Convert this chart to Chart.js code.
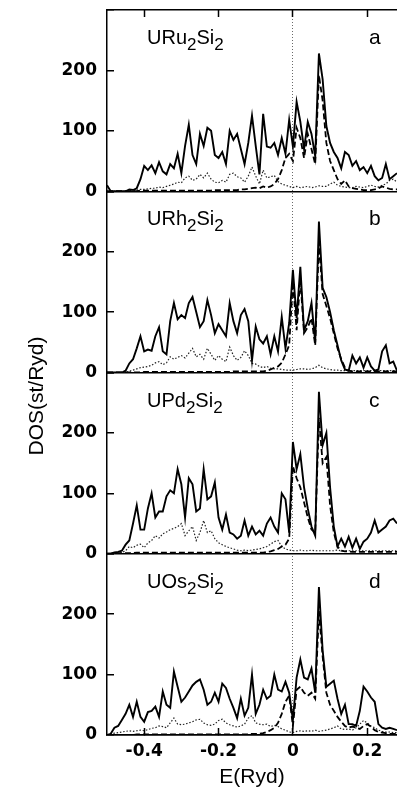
<!DOCTYPE html>
<html><head><meta charset="utf-8">
<script src="https://cdn.jsdelivr.net/npm/chart.js@4/dist/chart.umd.min.js"></script>
<style>html,body{margin:0;padding:0;background:#fff;}canvas{display:block;}</style>
</head><body>
<canvas id="c" width="397" height="790" style="width:397px;height:790px"></canvas>
<script>
// ---------- data ----------
const energy = [-0.50,-0.49,-0.48,-0.47,-0.46,-0.45,-0.44,-0.43,-0.42,-0.41,
  -0.40,-0.39,-0.38,-0.37,-0.36,-0.35,-0.34,-0.33,-0.32,-0.31,
  -0.30,-0.29,-0.28,-0.27,-0.26,-0.25,-0.24,-0.23,-0.22,-0.21,
  -0.20,-0.19,-0.18,-0.17,-0.16,-0.15,-0.14,-0.13,-0.12,-0.11,
  -0.10,-0.09,-0.08,-0.07,-0.06,-0.05,-0.04,-0.03,-0.02,-0.01,
  0.00,0.01,0.02,0.03,0.04,0.05,0.06,0.07,0.08,0.09,
  0.10,0.11,0.12,0.13,0.14,0.15,0.16,0.17,0.18,0.19,
  0.20,0.21,0.22,0.23,0.24,0.25,0.26,0.27,0.28];

const panelNames = ['URu2Si2','URh2Si2','UPd2Si2','UOs2Si2'];
const panelLetters = ['a','b','c','d'];
const xTickValues = [-0.4,-0.2,0,0.2];
const yTickValues = [0,100,200,300];
const yTickLabels = ['0','100','200',''];
const xTitle = 'E(Ryd)';
const yTitle = 'DOS(st/Ryd)';

// URu2Si2
const aTotal = [10,0,0,0,0,0,3,2,5,20, 42,35,43,30,48,33,28,45,38,62, 30,75,110,60,45,95,75,105,100,60,
  55,65,45,100,85,95,70,45,80,125, 75,28,128,74,72,80,60,88,62,118, 74,148,115,70,115,95,58,228,185,108,
  80,65,55,38,65,60,42,50,35,40, 30,42,25,18,22,45,20,25,30];
const aDashed = [0,0,0,0,0,0,0,0,0,1, 1,1,1,1,1,1,1,1,1,1, 1,1,1,1,1,1,1,1,1,2,
  2,2,2,2,2,2,3,3,4,5, 6,5,8,6,8,12,20,35,55,62, 50,105,88,55,95,70,45,192,150,80,
  50,35,20,12,18,8,5,4,3,2, 2,2,3,5,8,6,4,3,3];
const aDotted = [0,0,0,0,0,0,1,1,2,3, 3,4,5,5,7,6,8,10,12,15, 14,22,25,18,20,28,22,30,20,15,
  14,18,15,28,30,24,22,15,25,40, 25,12,35,22,24,26,16,12,10,8, 6,8,6,7,8,6,7,9,8,8,
  12,15,10,8,7,6,6,8,7,6, 8,10,8,7,10,12,18,20,15];

// URh2Si2
const bTotal = [0,0,0,0,0,3,15,22,40,60, 35,38,36,60,75,35,30,85,115,88, 95,90,115,125,100,75,85,120,95,65,
  80,70,60,115,85,65,95,105,85,20, 76,55,48,60,30,60,35,92,40,82, 170,90,175,70,85,115,50,250,140,125,
  100,70,45,20,5,3,28,15,25,8, 25,10,3,5,35,45,15,18,3];
const bDashed = [0,0,0,0,0,0,0,0,0,0, 1,1,1,1,1,1,1,1,1,1, 1,1,1,1,1,1,1,1,1,1,
  1,1,1,1,2,2,2,2,2,2, 2,2,2,3,5,8,10,16,30,45, 150,70,155,65,75,90,45,215,130,110,
  90,65,40,22,8,3,2,2,2,2, 2,2,2,2,2,2,2,2,2];
const bDotted = [0,0,0,0,0,0,2,4,6,8, 9,10,12,16,18,13,16,26,22,25, 28,24,32,40,26,30,22,40,30,20,
  28,22,18,42,28,20,25,36,28,15, 14,10,8,10,7,6,6,5,4,4, 4,5,6,6,5,6,8,12,8,6,
  5,4,4,3,3,3,3,3,3,3, 3,3,3,3,3,3,3,3,3];

// UPd2Si2
const cTotal = [0,0,2,3,5,15,22,50,80,40, 40,75,100,60,70,70,95,105,100,140, 115,60,125,115,70,75,140,90,95,118,
  60,40,65,35,32,25,30,55,30,45, 32,38,30,50,60,45,35,100,90,35, 185,140,165,110,75,45,30,268,180,200,
  110,45,12,25,12,28,10,25,8,20, 25,35,55,35,40,45,55,58,50];
const cDashed = [0,0,1,1,1,1,1,1,2,2, 2,2,2,2,2,2,2,2,2,2, 2,2,2,2,2,2,2,2,2,2,
  2,2,2,2,2,2,2,2,2,2, 2,2,2,3,4,6,8,12,15,25, 145,125,110,85,60,40,35,225,150,160,
  80,35,12,5,4,4,3,3,3,3, 3,3,3,3,3,3,3,3,3];
const cDotted = [0,0,0,0,2,5,12,10,14,16, 10,18,22,30,26,33,36,40,42,45, 50,30,38,45,22,35,55,35,38,25,
  18,15,12,10,8,6,5,6,5,6, 7,8,10,12,16,20,22,12,8,6, 5,5,6,5,5,6,5,5,5,5,
  5,5,6,5,5,5,5,5,5,5, 5,5,5,5,5,5,5,5,5];

// UOs2Si2
const dTotal = [0,2,12,15,25,35,50,30,55,30, 22,38,40,47,30,72,50,45,105,80, 55,62,72,82,88,92,75,50,55,70,
  55,85,78,60,45,28,60,32,45,100, 35,50,75,60,65,100,75,72,88,70, 25,95,125,95,92,110,70,245,140,80,
  85,90,60,35,50,18,18,15,40,80, 72,62,55,18,12,10,12,10,8];
const dDashed = [0,0,0,0,0,0,0,0,1,1, 1,1,1,1,1,1,1,1,1,1, 1,1,1,1,1,1,1,1,1,1,
  1,1,1,1,1,1,1,1,1,2, 2,2,3,5,8,12,20,35,55,65, 15,75,80,70,65,70,60,205,130,70,
  50,40,30,22,15,12,14,12,10,15, 18,14,8,5,4,3,2,2,2];
const dDotted = [0,2,3,4,5,6,7,6,7,8, 7,9,11,12,15,14,12,20,28,18, 17,18,20,22,25,26,20,17,16,18,
  24,26,20,17,15,13,15,18,28,32, 20,18,17,18,14,16,14,10,8,5, 4,6,7,6,7,6,8,6,7,8,
  10,12,15,10,9,10,8,12,18,24, 20,15,12,8,6,5,5,4,4];

const panels = [
  {id:'ya', total:aTotal, dashed:aDashed, dotted:aDotted},
  {id:'yb', total:bTotal, dashed:bDashed, dotted:bDotted},
  {id:'yc', total:cTotal, dashed:cDashed, dotted:cDotted},
  {id:'yd', total:dTotal, dashed:dDashed, dotted:dDotted}
];

// ---------- chart ----------
const pts = arr => energy.map((e,i) => ({x:e, y:arr[i]}));
const datasets = [];
panels.forEach(p => {
  datasets.push({data:pts(p.total), yAxisID:p.id, xAxisID:'x', borderColor:'#000', borderWidth:1.9, pointRadius:0, tension:0, order:0});
  datasets.push({data:pts(p.dashed), yAxisID:p.id, xAxisID:'x', borderColor:'#000', borderWidth:1.8, borderDash:[6,3], pointRadius:0, tension:0, order:1});
  datasets.push({data:pts(p.dotted), yAxisID:p.id, xAxisID:'x', borderColor:'#222', borderWidth:1.2, borderDash:[1.5,1.8], pointRadius:0, tension:0, order:2});
});

const tickFont = {family:'DejaVu Sans', weight:'bold', size:17};
function yScale(weight){
  return {
    type:'linear', position:'left', stack:'dos', stackWeight:1, weight:weight,
    min:0, max:300,
    afterBuildTicks: s => { s.ticks = yTickValues.map(v => ({value:v})); },
    afterFit: s => { s.width = 50; s.paddingTop = 0; s.paddingBottom = 0; },
    grid: {
      color: c => (c.tick && c.tick.value === 0) ? '#000' : 'rgba(0,0,0,0)',
      lineWidth:1.5, tickLength:-7, tickColor:'#000', tickWidth:1.5
    },
    border: {display:true, color:'#000', width:1.5},
    ticks: {
      padding:17, color:'#000', font:tickFont,
      callback: v => { const i = yTickValues.indexOf(v); return i >= 0 ? yTickLabels[i] : ''; }
    }
  };
}
const fmtX = v => (v === 0 ? '0' : String(v));

const panelPlugin = {
  id:'panelText',
  afterDraw(chart){
    const ctx = chart.ctx;
    ctx.save();
    ctx.fillStyle = '#000';
    ctx.textBaseline = 'alphabetic';
    ctx.textAlign = 'left';
    panels.forEach((p, i) => {
      const s = chart.scales[p.id];
      const base = s.top + 34;
      let x = 147;
      for (const ch of panelNames[i]) {
        if (/[0-9]/.test(ch)) {
          ctx.font = '17px "Liberation Sans"';
          ctx.fillText(ch, x, base + 6);
        } else {
          ctx.font = '20px "Liberation Sans"';
          ctx.fillText(ch, x, base);
        }
        x += ctx.measureText(ch).width;
      }
      ctx.font = '21px "Liberation Sans"';
      ctx.fillText(panelLetters[i], 369, base);
    });
    ctx.translate(37, 396);
    ctx.rotate(-Math.PI/2);
    ctx.textAlign = 'center';
    ctx.textBaseline = 'middle';
    ctx.font = '21px "Liberation Sans"';
    ctx.fillText(yTitle, 0, 0);
    ctx.restore();
  }
};

new Chart(document.getElementById('c'), {
  type:'line',
  data:{datasets},
  plugins:[panelPlugin],
  options:{
    responsive:false, animation:false, devicePixelRatio:1,
    layout:{padding:{left:57, right:0, top:10, bottom:0}},
    plugins:{legend:{display:false}, tooltip:{enabled:false}},
    scales:{
      x:{
        type:'linear', position:'bottom', min:-0.5, max:0.28,
        afterBuildTicks: s => { s.ticks = xTickValues.map(v => ({value:v})); },
        afterFit: s => { s.height = 55; s.paddingLeft = 0; s.paddingRight = 0; },
        grid:{
          color: c => (c.tick && c.tick.value === 0) ? 'rgba(90,90,90,0.9)' : 'rgba(0,0,0,0)',
          lineWidth:1, tickLength:-7, tickColor:'#000', tickWidth:1.5
        },
        border:{display:true, color:'#000', width:1.5, dash:[1,2]},
        ticks:{padding:13, color:'#000', font:tickFont, maxRotation:0, autoSkip:false, callback: v => fmtX(v)},
        title:{display:true, text:xTitle, color:'#000', font:{family:'Liberation Sans', size:21}, padding:{top:0, bottom:0}}
      },
      x2:{
        type:'linear', position:'top', min:-0.5, max:0.28,
        afterBuildTicks: s => { s.ticks = xTickValues.map(v => ({value:v})); },
        afterFit: s => { s.height = 0; s.paddingLeft = 0; s.paddingRight = 0; },
        grid:{color:'rgba(0,0,0,0)', tickLength:-7, tickColor:'#000', tickWidth:1.5},
        border:{display:true, color:'#000', width:1.5},
        ticks:{display:false}
      },
      ya: yScale(4), yb: yScale(3), yc: yScale(2), yd: yScale(1)
    }
  }
});
</script>
</body></html>
